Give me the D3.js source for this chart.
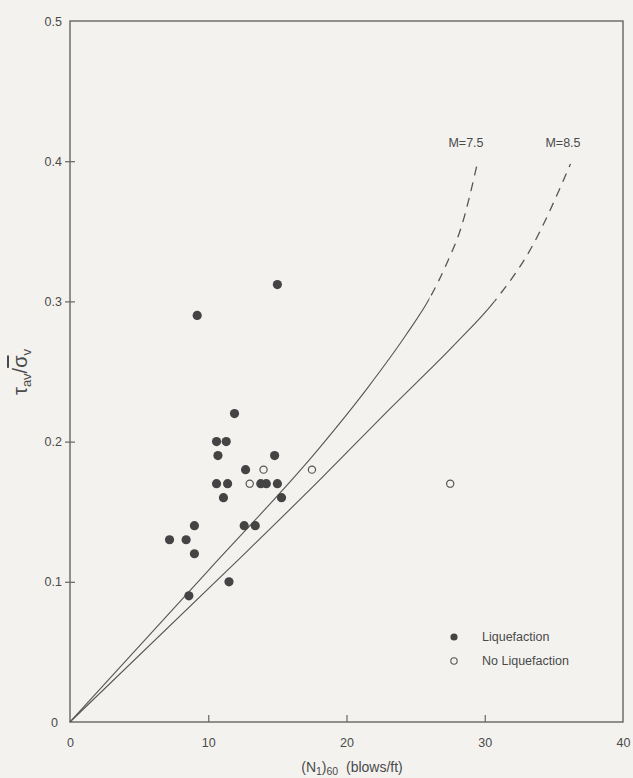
<!DOCTYPE html>
<html>
<head>
<meta charset="utf-8">
<script src="https://cdn.jsdelivr.net/npm/d3@7"></script>
<style>
  body { margin: 0; background: #f4f2ef; }
  svg { display: block; }
  text { font-family: "Liberation Sans", Arial, sans-serif; fill: #4a4a4a; }
</style>
</head>
<body>
<svg id="chart" width="633" height="778"></svg>
<script>
//////////////////// DATA ////////////////////
// liquefaction sites: [(N1)60, tau_av / sigma_v]
const liquefied = [
  [9.2, 0.29], [15.0, 0.312], [11.9, 0.22], [10.6, 0.20], [11.3, 0.20],
  [10.7, 0.19], [14.8, 0.19], [12.7, 0.18], [10.6, 0.17], [11.4, 0.17],
  [13.8, 0.17], [14.2, 0.17], [15.0, 0.17], [11.1, 0.16], [15.3, 0.16],
  [9.0, 0.14], [12.6, 0.14], [13.4, 0.14], [7.2, 0.13], [8.4, 0.13],
  [9.0, 0.12], [11.5, 0.10], [8.6, 0.09]
];
// no liquefaction sites
const notLiquefied = [[14.0, 0.18], [17.5, 0.18], [13.0, 0.17], [27.5, 0.17]];

// boundary curves, solid up to the split value, dashed beyond
const curve75 = [[0, 0], [10, 0.108], [18, 0.195], [21.5, 0.238], [24.3, 0.276], [26, 0.302], [27.2, 0.326], [28.3, 0.353], [29.5, 0.40]];
const split75 = 26;
const curve85 = [[0, 0], [12, 0.114], [18.3, 0.175], [23.1, 0.223], [27.9, 0.27], [30.7, 0.30], [33.3, 0.337], [36.2, 0.398]];
const split85 = 30.7;

const xTicks = [0, 10, 20, 30, 40];
const yTicks = [0, 0.1, 0.2, 0.3, 0.4, 0.5];
const yTickLabels = ["0", "0.1", "0.2", "0.3", "0.4", "0.5"];

//////////////////// SIZES ////////////////////
const plot = { left: 70, right: 623, top: 21, bottom: 722 };
const ink = "#555";

const svg = d3.select("#chart");

const scaleX = d3.scaleLinear().domain([0, 40]).range([plot.left, plot.right]);
const scaleY = d3.scaleLinear().domain([0, 0.5]).range([plot.bottom, plot.top]);

//////////////////// FRAME ////////////////////
svg.append("rect")
  .attr("x", plot.left).attr("y", plot.top)
  .attr("width", plot.right - plot.left).attr("height", plot.bottom - plot.top)
  .attr("fill", "none").attr("stroke", "#666").attr("stroke-width", 1.4);

//////////////////// AXES ////////////////////
const xAxis = svg.append("g")
  .attr("transform", `translate(0,${plot.bottom})`)
  .call(d3.axisBottom(scaleX).tickValues(xTicks).tickSize(-7).tickPadding(16).tickFormat(d3.format("d")));
xAxis.select(".domain").remove();
xAxis.selectAll(".tick line").attr("stroke", "#666").attr("stroke-width", 1.2)
  .filter(d => d === 0 || d === 40).remove();
xAxis.selectAll(".tick text").attr("font-size", 12.5).attr("fill", "#4a4a4a");

const yAxis = svg.append("g")
  .attr("transform", `translate(${plot.left},0)`)
  .call(d3.axisLeft(scaleY).tickValues(yTicks).tickSize(5).tickPadding(6).tickFormat((d, i) => yTickLabels[i]));
yAxis.select(".domain").remove();
yAxis.selectAll(".tick line").attr("x2", 5).attr("x1", -5).attr("stroke", "#666").attr("stroke-width", 1.2)
  .filter(d => d === 0 || d === 0.5).remove();
yAxis.selectAll(".tick text").attr("font-size", 12.5).attr("fill", "#4a4a4a")
  .attr("x", d => d === 0 ? -12 : -8);

// axis titles
const xTitle = svg.append("text")
  .attr("x", 352).attr("y", 772)
  .attr("text-anchor", "middle")
  .attr("font-size", 14);
xTitle.append("tspan").text("(N");
xTitle.append("tspan").attr("font-size", 10.5).attr("dy", 3).text("1");
xTitle.append("tspan").attr("dy", -3).text(")");
xTitle.append("tspan").attr("font-size", 10.5).attr("dy", 3).text("60");
xTitle.append("tspan").attr("dy", -3).text("\u00a0\u00a0(blows/ft)");

const yTitle = svg.append("text")
  .attr("transform", "translate(27,372) rotate(-90)")
  .attr("text-anchor", "middle")
  .attr("font-size", 20);
yTitle.append("tspan").text("\u03c4");
yTitle.append("tspan").attr("font-size", 13).attr("dy", 4).text("av");
yTitle.append("tspan").attr("dy", -4).text("/");
yTitle.append("tspan").style("text-decoration", "overline").text("\u03c3");
yTitle.append("tspan").attr("font-size", 13).attr("dy", 4).text("v");

//////////////////// CURVES ////////////////////
const line = d3.line()
  .x(d => scaleX(d[0]))
  .y(d => scaleY(d[1]))
  .curve(d3.curveMonotoneX);

const defs = svg.append("defs");
function addClip(id, x0, x1) {
  defs.append("clipPath").attr("id", id)
    .append("rect")
    .attr("x", x0).attr("y", 0)
    .attr("width", x1 - x0).attr("height", 778);
}

[[curve75, split75, "c75"], [curve85, split85, "c85"]].forEach(([c, split, id]) => {
  addClip(id + "s", 0, scaleX(split));
  addClip(id + "d", scaleX(split), 633);
  svg.append("path").attr("d", line(c))
    .attr("clip-path", `url(#${id}s)`)
    .attr("fill", "none").attr("stroke", ink).attr("stroke-width", 1.1);
  svg.append("path").attr("d", line(c))
    .attr("clip-path", `url(#${id}d)`)
    .attr("fill", "none").attr("stroke", ink).attr("stroke-width", 1.3)
    .attr("stroke-dasharray", "9,7");
});

svg.append("text").attr("x", 466).attr("y", 147).attr("text-anchor", "middle")
  .attr("font-size", 12.5).text("M=7.5");
svg.append("text").attr("x", 563).attr("y", 147).attr("text-anchor", "middle")
  .attr("font-size", 12.5).text("M=8.5");

//////////////////// POINTS ////////////////////
svg.selectAll(".liq")
  .data(liquefied)
  .enter()
  .append("circle")
  .attr("class", "liq")
  .attr("cx", d => scaleX(d[0]))
  .attr("cy", d => scaleY(d[1]))
  .attr("r", 4.6)
  .attr("fill", "#444");

svg.selectAll(".noliq")
  .data(notLiquefied)
  .enter()
  .append("circle")
  .attr("class", "noliq")
  .attr("cx", d => scaleX(d[0]))
  .attr("cy", d => scaleY(d[1]))
  .attr("r", 3.6)
  .attr("fill", "#f4f2ef")
  .attr("stroke", "#555")
  .attr("stroke-width", 1.2);

//////////////////// LEGEND ////////////////////
svg.append("circle").attr("cx", 454).attr("cy", 637).attr("r", 3.6).attr("fill", "#444");
svg.append("circle").attr("cx", 454).attr("cy", 661).attr("r", 3.2)
  .attr("fill", "none").attr("stroke", "#555").attr("stroke-width", 1.1);
svg.append("text").attr("x", 482).attr("y", 641).attr("font-size", 12.5).text("Liquefaction");
svg.append("text").attr("x", 482).attr("y", 665).attr("font-size", 12.5).text("No Liquefaction");
</script>
</body>
</html>
